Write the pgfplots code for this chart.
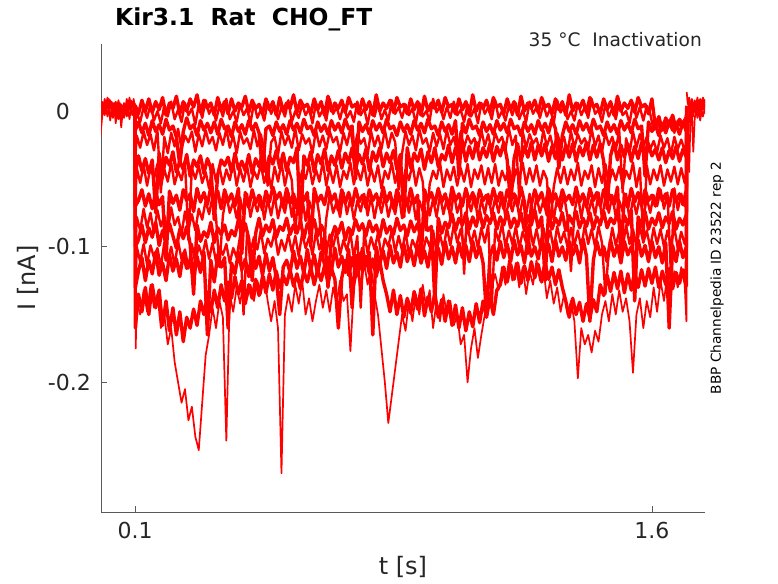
\documentclass[border=0pt]{standalone}
\usepackage{pgfplots}
\pgfplotsset{compat=1.18}
\usepackage{pgfplotstable}
\usepackage{fontspec}
\setmainfont{DejaVu Sans}
\definecolor{txt}{HTML}{262626}
\definecolor{axc}{HTML}{5A5A5A}
% current in pA (0.001 nA), time in s
\pgfplotstableread{
t a c e g i k m
0.100 2 0 3 -1 1 -2 0
0.101 4 -14 -45 -70 -100 -160 -130
0.11 -2 -8 -33 -66 -95 -135 -118
0.12 8 -16 -44 -58 -84 -148 -108
0.13 0 -9 -35 -70 -97 -130 -125
0.14 9 -18 -46 -61 -86 -150 -110
0.15 -1 -7 -36 -72 -93 -128 -120
0.16 7 -15 -75 -60 -82 -145 -104
0.17 1 -10 -31 -69 -99 -132 -121
0.18 10 -17 -47 -63 -88 -158 -112
0.19 -3 -6 -34 -110 -95 -140 -125
0.20 6 -14 -40 -59 -83 -162 -106
0.21 2 -11 -30 -68 -92 -145 -118
0.22 11 -19 -45 -62 -101 -165 -109
0.23 -2 -40 -37 -73 -87 -148 -122
0.24 7 -15 -43 -58 -94 -170 -105
0.25 0 -5 -32 -66 -85 -152 -116
0.26 9 -13 -48 -61 -98 -160 -111
0.27 3 -10 -36 -74 -135 -146 -124
0.28 12 -18 -41 -57 -84 -158 -107
0.29 -1 -7 -33 -67 -96 -140 -119
0.30 8 -14 -46 -60 -89 -150 -104
0.31 2 -9 -35 -69 -93 -136 -165
0.32 6 -16 -42 -56 -82 -148 -110
0.33 -3 -8 -80 -65 -97 -132 -126
0.34 10 -17 -47 -59 -86 -145 -106
0.35 1 -6 -36 -72 -91 -128 -115
0.36 7 -13 -40 -58 -84 -140 -108
0.37 -2 -11 -34 -67 -95 -126 -160
0.38 9 -19 -45 -61 -88 -138 -112
0.39 0 -8 -31 -70 -92 -122 -120
0.40 6 -15 -43 -57 -80 -135 -104
0.41 3 -10 -37 -105 -91 -125 -117
0.42 11 -17 -44 -60 -83 -142 -109
0.43 -1 -7 -32 -71 -94 -128 -122
0.44 8 -14 -46 -58 -125 -138 -103
0.45 2 -9 -35 -68 -90 -124 -116
0.46 5 -16 -41 -62 -79 -136 -107
0.47 -2 -45 -30 -73 -92 -122 -121
0.48 9 -13 -45 -59 -84 -134 -105
0.49 1 -11 -33 -67 -89 -120 -118
0.50 7 -18 -39 -56 -80 -132 -108
0.51 -3 -8 -29 -65 -93 -118 -123
0.52 10 -15 -42 -60 -85 -130 -150
0.53 0 -10 -31 -70 -88 -121 -115
0.54 6 -17 -44 -57 -79 -128 -110
0.55 2 -7 -34 -68 -91 -117 -119
0.56 12 -14 -38 -61 -84 -129 -103
0.57 -1 -9 -27 -72 -90 -120 -116
0.58 8 -16 -85 -58 -81 -131 -107
0.59 3 -6 -33 -66 -94 -118 -120
0.60 5 -13 -40 -60 -83 -126 -102
0.61 -2 -11 -30 -100 -88 -115 -117
0.62 9 -18 -45 -57 -80 -128 -106
0.63 1 -8 -32 -67 -92 -117 -121
0.64 7 -15 -39 -62 -84 -125 -104
0.65 -3 -10 -28 -69 -89 -114 -113
0.66 11 -17 -44 -56 -130 -127 -108
0.67 0 -7 -33 -66 -93 -116 -118
0.68 6 -14 -40 -61 -85 -124 -101
0.69 2 -9 -29 -73 -90 -160 -115
0.70 8 -16 -42 -58 -82 -123 -107
0.71 -1 -6 -31 -68 -95 -110 -119
0.72 10 -13 -38 -60 -86 -121 -102
0.73 3 -11 -27 -70 -91 -108 -145
0.74 5 -50 -43 -57 -80 -119 -106
0.75 -2 -8 -32 -67 -88 -105 -117
0.76 9 -15 -39 -62 -83 -118 -101
0.77 1 -10 -28 -71 -92 -107 -114
0.78 7 -17 -44 -58 -81 -120 -104
0.79 -3 -7 -30 -66 -89 -109 -165
0.80 12 -14 -37 -61 -84 -122 -100
0.81 0 -9 -27 -69 -93 -110 -113
0.82 6 -16 -41 -56 -80 -125 -103
0.83 2 -6 -31 -67 -90 -135 -116
0.84 8 -13 -38 -60 -85 -148 -99
0.85 -1 -11 -29 -72 -91 -132 -112
0.86 10 -18 -43 -58 -79 -150 -104
0.87 3 -8 -32 -66 -88 -136 -115
0.88 5 -15 -78 -61 -84 -152 -98
0.89 -2 -10 -27 -70 -92 -138 -111
0.90 9 -17 -42 -57 -81 -149 -102
0.91 1 -7 -31 -68 -89 -133 -114
0.92 7 -14 -37 -62 -83 -146 -99
0.93 -3 -9 -28 -112 -94 -131 -112
0.94 11 -16 -43 -58 -80 -151 -103
0.95 0 -6 -30 -66 -88 -137 -115
0.96 6 -13 -38 -60 -85 -148 -97
0.97 2 -11 -27 -69 -140 -134 -110
0.98 8 -18 -41 -57 -79 -152 -101
0.99 -1 -8 -32 -67 -90 -139 -113
1.00 10 -15 -36 -61 -82 -155 -96
1.01 3 -10 -25 -72 -86 -140 -109
1.02 5 -17 -38 -56 -76 -158 -100
1.03 -2 -7 -27 -66 -88 -143 -112
1.04 9 -48 -36 -61 -79 -160 -97
1.05 1 -9 -24 -70 -84 -145 -108
1.06 7 -16 -37 -57 -75 -162 -99
1.07 -3 -6 -26 -67 -87 -148 -111
1.08 12 -13 -35 -60 -78 -159 -96
1.09 0 -11 -23 -71 -85 -142 -108
1.10 6 -18 -36 -58 -74 -156 -100
1.11 2 -8 -27 -66 -86 -140 -112
1.12 8 -15 -34 -62 -77 -152 -150
1.13 -1 -10 -24 -69 -83 -138 -107
1.14 10 -17 -37 -57 -75 -150 -99
1.15 3 -7 -26 -67 -87 -132 -110
1.16 5 -14 -33 -60 -78 -128 -96
1.17 -2 -9 -23 -72 -84 -115 -108
1.18 9 -16 -36 -58 -74 -126 -98
1.19 1 -6 -70 -66 -86 -113 -111
1.20 7 -13 -35 -61 -79 -124 -95
1.21 -3 -11 -24 -70 -85 -112 -106
1.22 11 -18 -37 -56 -75 -127 -99
1.23 0 -8 -26 -67 -88 -114 -112
1.24 6 -15 -34 -105 -77 -125 -94
1.25 2 -10 -23 -69 -84 -111 -107
1.26 8 -17 -36 -58 -73 -123 -100
1.27 -1 -7 -25 -66 -86 -113 -109
1.28 10 -14 -33 -60 -78 -126 -96
1.29 3 -9 -24 -71 -125 -112 -108
1.30 5 -16 -37 -57 -74 -124 -98
1.31 -2 -6 -26 -67 -87 -115 -111
1.32 9 -13 -35 -61 -79 -128 -95
1.33 1 -42 -23 -70 -84 -117 -107
1.34 7 -18 -36 -58 -75 -130 -100
1.35 -3 -8 -25 -66 -88 -140 -110
1.36 12 -15 -34 -62 -77 -152 -96
1.37 0 -10 -24 -69 -83 -138 -106
1.38 6 -17 -37 -56 -74 -150 -99
1.39 2 -7 -26 -67 -86 -141 -112
1.40 8 -14 -33 -61 -79 -155 -94
1.41 -1 -9 -23 -71 -85 -142 -107
1.42 10 -16 -36 -57 -75 -153 -155
1.43 3 -6 -25 -66 -87 -139 -110
1.44 5 -13 -34 -60 -78 -148 -96
1.45 -2 -11 -24 -70 -84 -128 -106
1.46 9 -18 -37 -58 -74 -136 -100
1.47 1 -8 -72 -67 -86 -121 -111
1.48 7 -15 -33 -62 -79 -133 -95
1.49 -3 -10 -23 -69 -83 -119 -107
1.50 11 -17 -36 -56 -75 -131 -99
1.51 0 -7 -25 -108 -88 -118 -112
1.52 6 -14 -34 -61 -77 -134 -96
1.53 2 -9 -24 -71 -84 -120 -106
1.54 8 -16 -37 -57 -73 -132 -100
1.55 -1 -6 -26 -67 -140 -118 -110
1.56 10 -13 -35 -60 -78 -130 -95
1.57 3 -11 -23 -70 -85 -117 -107
1.58 5 -48 -36 -58 -74 -129 -99
1.59 -2 -8 -25 -66 -87 -116 -111
1.60 9 -15 -33 -62 -79 -127 -96
1.61 -12 -10 -28 -70 -84 -115 -108
1.62 -4 -18 -36 -57 -75 -130 -100
1.63 -14 -9 -27 -66 -86 -118 -112
1.64 -5 -16 -38 -61 -78 -128 -97
1.65 -11 -7 -29 -70 -83 -116 -160
1.66 -3 -14 -35 -58 -74 -131 -99
1.67 -13 -10 -26 -67 -87 -119 -111
1.68 -6 -17 -37 -61 -79 -127 -96
1.69 -10 -8 -28 -69 -84 -117 -108
1.70 -4 -15 -34 -58 -76 -129 -100
1.701 3 0 -2 4 1 -3 2
}\tabA
\pgfplotstableread{
t b d f h j l
0.100 1 -1 2 0 -2 0
0.102 -6 -30 -60 -95 -120 -175
0.105 -1 -18 -42 -78 -100 -140
0.115 -8 -27 -53 -88 -111 -150
0.125 3 -15 -40 -72 -98 -132
0.135 -5 -25 -55 -86 -113 -148
0.145 5 -17 -41 -75 -99 -128
0.155 -7 -29 -50 -90 -108 -145
0.165 0 -14 -39 -73 -101 -135
0.175 -9 -60 -56 -85 -115 -160
0.185 4 -19 -43 -77 -97 -150
0.195 -4 -31 -52 -89 -110 -172
0.205 7 -16 -38 -71 -100 -160
0.215 -6 -26 -54 -84 -114 -185
0.225 1 -13 -44 -78 -96 -200
0.235 -8 -28 -51 -91 -109 -215
0.245 6 -18 -37 -74 -102 -205
0.255 -3 -23 -95 -87 -116 -228
0.265 2 -15 -42 -76 -98 -218
0.275 -10 -30 -50 -88 -112 -240
0.285 5 -17 -40 -72 -99 -250
0.295 -5 -26 -53 -80 -107 -215
0.305 8 -14 -45 -66 -95 -180
0.315 -2 -24 -57 -76 -109 -165
0.325 3 -19 -39 -63 -97 -145
0.335 -7 -29 -52 -78 -111 -160
0.345 4 -16 -41 -115 -100 -140
0.355 -4 -25 -54 -77 -106 -152
0.365 9 -13 -43 -62 -98 -243
0.375 -6 -27 -51 -75 -112 -135
0.385 0 -18 -38 -67 -101 -148
0.395 -8 -31 -55 -79 -108 -130
0.405 5 -15 -42 -64 -92 -142
0.415 -3 -24 -52 -76 -150 -125
0.425 2 -20 -40 -61 -90 -138
0.435 -9 -28 -56 -78 -104 -128
0.445 6 -14 -44 -66 -93 -140
0.455 -5 -26 -50 -74 -102 -125
0.465 1 -17 -39 -63 -88 -135
0.475 -7 -30 -53 -80 -105 -122
0.485 7 -55 -43 -65 -94 -140
0.495 -2 -23 -57 -77 -100 -155
0.505 4 -19 -41 -62 -89 -140
0.515 -6 -32 -52 -79 -106 -160
0.525 3 -15 -38 -67 -95 -267
0.535 -4 -25 -55 -75 -103 -150
0.545 8 -18 -42 -60 -91 -135
0.555 -8 -27 -51 -78 -104 -148
0.565 0 -13 -90 -64 -92 -128
0.575 -5 -29 -56 -76 -107 -142
0.585 5 -17 -44 -63 -90 -125
0.595 -3 -24 -50 -81 -101 -150
0.605 2 -20 -39 -66 -93 -138
0.615 -9 -31 -54 -74 -106 -155
0.625 6 -14 -43 -61 -89 -140
0.635 -4 -26 -52 -77 -102 -128
0.645 1 -18 -37 -110 -94 -145
0.655 -7 -28 -55 -79 -105 -132
0.665 9 -15 -42 -62 -91 -148
0.675 -2 -23 -53 -75 -100 -130
0.685 3 -19 -40 -67 -88 -142
0.695 -6 -30 -56 -78 -106 -125
0.705 5 -16 -44 -60 -95 -140
0.715 -5 -25 -50 -76 -103 -135
0.725 0 -13 -38 -64 -90 -177
0.735 -8 -29 -54 -80 -108 -130
0.745 7 -17 -43 -66 -92 -118
0.755 -3 -24 -51 -74 -145 -132
0.765 2 -20 -39 -61 -89 -112
0.775 -10 -32 -55 -77 -105 -128
0.785 4 -15 -42 -63 -93 -115
0.795 -4 -26 -52 -79 -102 -135
0.805 6 -18 -40 -65 -90 -150
0.815 -6 -28 -57 -75 -107 -175
0.825 1 -14 -44 -62 -94 -200
0.835 -7 -27 -50 -78 -100 -230
0.845 8 -16 -38 -67 -88 -210
0.855 -2 -23 -53 -76 -104 -190
0.865 3 -58 -41 -60 -92 -170
0.875 -5 -31 -56 -79 -103 -150
0.885 5 -15 -43 -64 -89 -162
0.895 -3 -25 -51 -75 -106 -140
0.905 2 -18 -39 -63 -95 -155
0.915 -9 -29 -55 -80 -101 -135
0.925 6 -13 -42 -66 -90 -150
0.935 -4 -24 -52 -74 -105 -128
0.945 0 -20 -88 -61 -93 -145
0.955 -7 -30 -54 -77 -100 -132
0.965 9 -16 -44 -65 -88 -160
0.975 -1 -26 -50 -78 -104 -140
0.985 4 -17 -38 -62 -91 -155
0.995 -6 -28 -56 -76 -102 -135
1.005 3 -14 -43 -64 -86 -150
1.015 -5 -25 -51 -79 -99 -140
1.025 7 -19 -41 -60 -84 -158
1.035 -3 -31 -55 -75 -97 -150
1.045 1 -15 -42 -66 -87 -172
1.055 -8 -27 -52 -120 -100 -165
1.065 5 -18 -39 -63 -85 -200
1.075 -4 -24 -56 -74 -98 -175
1.085 2 -20 -43 -62 -88 -160
1.095 -9 -29 -50 -80 -101 -182
1.105 6 -14 -40 -65 -86 -165
1.115 -2 -26 -54 -76 -97 -150
1.125 3 -17 -42 -61 -84 -138
1.135 -6 -30 -53 -77 -145 -130
1.145 8 -16 -39 -64 -87 -120
1.155 -5 -23 -55 -75 -96 -132
1.165 0 -19 -44 -60 -83 -115
1.175 -7 -28 -51 -79 -100 -128
1.185 4 -13 -41 -66 -88 -110
1.195 -3 -25 -56 -74 -98 -125
1.205 6 -18 -43 -62 -85 -112
1.215 -6 -65 -50 -78 -101 -130
1.225 1 -15 -38 -65 -89 -115
1.235 -8 -27 -54 -76 -97 -135
1.245 7 -17 -42 -61 -84 -118
1.255 -2 -24 -52 -79 -99 -128
1.265 3 -20 -40 -63 -87 -110
1.275 -5 -30 -55 -75 -100 -125
1.285 5 -14 -44 -66 -86 -115
1.295 -4 -26 -50 -77 -98 -138
1.305 2 -18 -85 -60 -88 -125
1.315 -9 -29 -56 -80 -102 -142
1.325 8 -16 -42 -64 -85 -130
1.335 -1 -25 -53 -74 -97 -148
1.345 4 -19 -41 -62 -89 -135
1.355 -6 -31 -54 -78 -100 -150
1.365 0 -15 -43 -118 -86 -140
1.375 -7 -27 -51 -75 -99 -155
1.385 6 -17 -38 -61 -88 -197
1.395 -3 -24 -55 -79 -101 -160
1.405 3 -20 -44 -63 -84 -172
1.415 -5 -28 -50 -76 -98 -165
1.425 9 -13 -40 -65 -87 -178
1.435 -2 -26 -56 -77 -100 -162
1.445 1 -18 -42 -60 -85 -170
1.455 -8 -30 -53 -79 -97 -150
1.465 5 -16 -39 -64 -135 -140
1.475 -4 -25 -54 -75 -102 -155
1.485 2 -19 -43 -62 -86 -135
1.495 -6 -29 -51 -78 -99 -150
1.505 7 -14 -41 -66 -89 -132
1.515 -3 -60 -55 -74 -101 -148
1.525 0 -20 -44 -61 -84 -138
1.535 -9 -31 -50 -80 -98 -155
1.545 6 -15 -38 -65 -87 -193
1.555 -5 -27 -56 -76 -100 -150
1.565 3 -17 -42 -63 -85 -138
1.575 -7 -26 -95 -79 -97 -160
1.585 4 -19 -40 -64 -88 -140
1.595 -2 -28 -54 -75 -101 -152
1.605 -14 -22 -43 -62 -86 -130
1.615 -6 -30 -51 -70 -98 -148
1.625 -15 -18 -40 -58 -87 -125
1.635 -8 -27 -55 -72 -100 -140
1.645 -13 -20 -43 -60 -88 -120
1.655 -5 -32 -52 -120 -99 -135
1.665 -16 -19 -41 -57 -86 -118
1.675 -7 -28 -54 -73 -101 -130
1.685 -12 -21 -42 -61 -89 -115
1.695 -6 -29 -53 -70 -98 -128
1.700 -10 -24 -45 -64 -92 -155
1.701 1 -3 2 -1 0 -2
}\tabB
\pgfplotstableread{
t p q r s
0.000 2 -5 6 -18
0.004 7 0 3 -6
0.008 3 6 -2 4
0.012 9 2 5 -3
0.016 4 8 0 2
0.020 10 3 6 -4
0.024 5 9 1 3
0.028 8 2 7 -7
0.032 2 7 -1 1
0.036 6 1 4 -5
0.040 1 6 -3 2
0.044 7 -1 3 -9
0.048 3 5 -2 0
0.052 8 0 4 -6
0.056 2 6 -4 1
0.060 5 -2 2 -12
0.064 0 4 -3 -1
0.068 6 -1 3 -5
0.072 2 5 -2 2
0.076 9 0 4 -4
0.080 4 7 -1 1
0.084 10 2 5 -6
0.088 3 8 0 2
0.092 7 3 6 -3
0.096 4 9 1 3
0.100 6 2 4 -1
0.500 nan nan nan nan
1.701 14 -5 3 -12
1.704 5 -38 0 -8
1.708 10 -2 6 -45
1.712 3 5 -3 -4
1.716 9 -1 7 -2
1.720 2 6 -4 -30
1.724 8 0 5 -6
1.728 4 7 -2 1
1.732 10 1 6 -5
1.736 3 8 -3 2
1.740 9 2 4 -7
1.744 5 7 -1 0
1.748 10 1 6 -4
1.752 6 8 2 1
1.756 9 3 5 -2
}\tabC
\begin{document}
\begin{tikzpicture}
\useasboundingbox (0pt,0pt) rectangle (778pt,583pt);
\begin{axis}[
  at={(101pt,71pt)}, anchor=south west,
  scale only axis, width=604pt, height=468pt,
  xmin=0.0013, xmax=1.754, ymin=-295.6, ymax=49.5,
  axis x line*=bottom, axis y line*=left,
  axis line style={color=axc, line width=0.7pt},
  tick align=inside, major tick length=6pt,
  tick style={color=axc, line width=0.7pt},
  xtick={0.1,1.6}, xticklabels={0.1,1.6},
  ytick={-200,-100,0}, yticklabels={-0.2,-0.1,{0\phantom{.0}}},
  ticklabel style={font=\fontsize{22}{26}\selectfont, text=txt},
  xticklabel style={anchor=north, inner sep=0pt, yshift=-10pt},
  yticklabel style={anchor=east, inner sep=0pt, xshift=-10pt},
  xlabel={t [s]}, ylabel={I [nA]},
  label style={font=\fontsize{24}{28}\selectfont, text=txt},
  xlabel style={at={(axis description cs:0.5,-0.1175)}, anchor=center},
  ylabel style={at={(axis description cs:-0.1209,0.5)}, anchor=center},
  unbounded coords=jump,
  tr/.style={color=red, solid, no markers, line width=3.4pt, line join=round},
  trb/.style={color=red, solid, no markers, line width=2.4pt, line join=round},
  trd/.style={color=red, solid, no markers, line width=1.7pt, line join=round},
]
\pgfplotsinvokeforeach{a,c,e,g,i,k,m}{\addplot[tr] table[x=t,y=#1]{\tabA};}
\pgfplotsinvokeforeach{b,d,f,h,j}{\addplot[trb] table[x=t,y=#1]{\tabB};}
\addplot[trd] table[x=t,y=l]{\tabB};
\pgfplotsinvokeforeach{p,q,r,s}{\addplot[trd] table[x=t,y=#1]{\tabC};}
\end{axis}
\node[anchor=base west, font=\fontsize{23.4}{28}\selectfont\bfseries, inner sep=0pt] at (115pt,557pt) {Kir3.1\ \ Rat\ \ CHO\_FT};
\node[anchor=base east, font=\fontsize{18.6}{22}\selectfont, text=txt, inner sep=0pt] at (702pt,536pt) {35 °C\ \ Inactivation};
\node[rotate=90, anchor=center, font=\fontsize{13.7}{16}\selectfont, inner sep=0pt] at (717pt,305pt) {BBP Channelpedia ID 23522 rep 2};
\end{tikzpicture}
\end{document}
